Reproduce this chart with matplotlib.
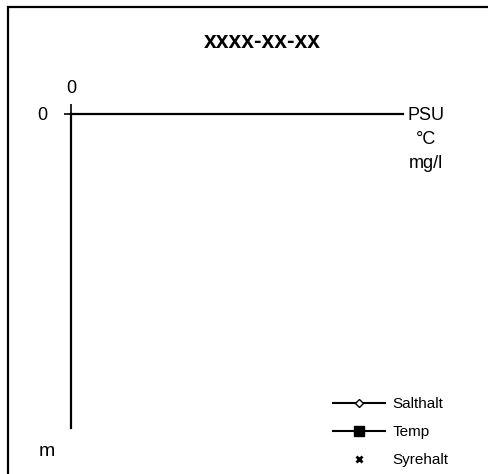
import matplotlib
matplotlib.use("Agg")
import matplotlib.pyplot as plt
from matplotlib.patches import Rectangle

plt.rcParams['font.family'] = ['Liberation Sans', 'DejaVu Sans']

# Data (chart is an empty template)
title = "xxxx-xx-xx"
depth = []
salthalt = []
temp = []
syrehalt = []
series_labels = ["Salthalt", "Temp", "Syrehalt"]
x_ticks = [0]
y_ticks = [0]
x_unit_labels = ["PSU", "°C", "mg/l"]
y_unit_label = "m"

W, H = 489, 474
fig = plt.figure(figsize=(W / 100, H / 100), dpi=100)

# outer frame (cut off on right and bottom)
fig.patches.append(Rectangle((8 / W, -0.1), 1.2, (H - 7) / H + 0.1, transform=fig.transFigure,
                             fill=False, edgecolor='black', linewidth=1.6))

left, right, top, bottom = 71, 403, 114, 428
ax = fig.add_axes([left / W, 1 - bottom / H, (right - left) / W, (bottom - top) / H])
ax.set_facecolor('none')

ax.plot(salthalt, depth, color='black', marker='D', markerfacecolor='white', markersize=4.5, label=series_labels[0])
ax.plot(temp, depth, color='black', marker='s', markersize=6.5, label=series_labels[1])
ax.plot(syrehalt, depth, color='black', linestyle='none', marker='x', markersize=4.5, markeredgewidth=2, label=series_labels[2])

ax.set_xlim(0, 1)
ax.set_ylim(1, 0)
for s in ['right', 'bottom']:
    ax.spines[s].set_visible(False)
for s in ['left', 'top']:
    ax.spines[s].set_linewidth(1.6)
ax.xaxis.tick_top()
ax.set_xticks(x_ticks)
ax.set_yticks(y_ticks)
ax.tick_params(axis='x', length=7.5, width=1.2, labelsize=13, pad=5)
ax.tick_params(axis='y', length=5, width=1.2, labelsize=13, pad=12)

fig.text(262 / W, 1 - 42 / H, title, ha='center', va='center', fontsize=16.5, fontweight='bold')
for lbl, ypix in zip(x_unit_labels, [115, 140, 164]):
    fig.text(426 / W, 1 - ypix / H, lbl, ha='center', va='center', fontsize=13)
fig.text(47 / W, 1 - 452 / H, y_unit_label, ha='center', va='center', fontsize=14)

fig.legend(loc='lower left', bbox_to_anchor=(327 / W, 1 - 473 / H), frameon=False, fontsize=11,
           handlelength=3.4, handletextpad=0.5, labelspacing=0.9, borderaxespad=0)

fig.savefig("out.png", dpi=100)
